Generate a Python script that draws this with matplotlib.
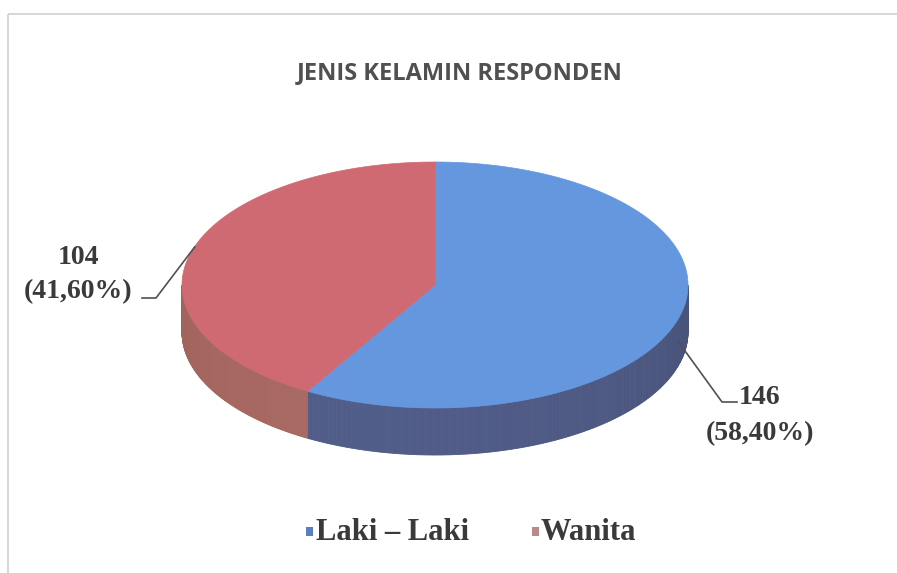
import numpy as np
import matplotlib
matplotlib.use("Agg")
import matplotlib.pyplot as plt
from matplotlib.patches import Polygon, Rectangle

# ---- data ----
title = "JENIS KELAMIN RESPONDEN"
categories = ["Laki \u2013 Laki", "Wanita"]
counts = [146, 104]
percent_labels = ["58,40%", "41,60%"]
top_colors = ["#6497de", "#cf6a72"]
side_colors = ["#4e5a84", "#a3665f"]
legend_colors = ["#5a7fc0", "#b88a8c"]

W, H = 897, 573
fig = plt.figure(figsize=(W / 100, H / 100), dpi=100)
ax = fig.add_axes([0, 0, 1, 1])
ax.set_xlim(0, W)
ax.set_ylim(H, 0)
ax.axis("off")

# frame of the chart area
ax.add_patch(Rectangle((8, 14), W + 20, H + 20, fill=False, ec="#d0d0d0", lw=1.2))

# pie geometry (layout)
cx, cy, rx, ry, depth = 435, 285, 253, 123, 47

total = sum(counts)
fracs = [c / total for c in counts]
# clockwise from 12 o'clock
ranges = []
start = 90.0
for f in fracs:
    end = start - f * 360.0
    ranges.append((end, start))  # counterclockwise theta1 < theta2
    start = end


def pt(t, dy=0.0):
    r = np.radians(t)
    return cx + rx * np.cos(r), cy - ry * np.sin(r) + dy


def shade(c, k):
    c = np.array(matplotlib.colors.to_rgb(c))
    return np.clip(c * k, 0, 1)

# sides (front half: angles 180..360)
for (t1, t2), sc in zip(ranges, side_colors):
    for off in (-360, 0, 360):
        a1, a2 = t1 + off, t2 + off
        lo, hi = max(a1, 180), min(a2, 360)
        if hi > lo:
            ts = np.linspace(lo, hi, 200)
            for i in range(len(ts) - 1):
                ta, tb = ts[i], ts[i + 1]
                mid = (ta + tb) / 2
                k = 0.95 + 0.08 * np.cos(np.radians(mid - 250))
                xa, ya = pt(ta)
                xb, yb = pt(tb)
                poly = [(xa, ya), (xb, yb), (xb, yb + depth), (xa, ya + depth)]
                ax.add_patch(Polygon(poly, closed=True, fc=shade(sc, k), ec=shade(sc, k), lw=0.6))

# top faces
for (t1, t2), tc in zip(ranges, top_colors):
    ts = np.linspace(t1, t2, 300)
    pts = [(cx, cy)] + [pt(t) for t in ts]
    ax.add_patch(Polygon(pts, closed=True, fc=tc, ec=tc, lw=0.5))

# title
ax.text(460, 73, title, ha="center", va="center", fontsize=17,
        fontweight="bold", family="Open Sans", color="#505050")

# data labels with leader lines
lab_font = dict(family="Liberation Serif", fontweight="bold", fontsize=20, color="#3a3a3a")
# blue (Laki-Laki)
t1, t2 = ranges[0]
mid = (t1 + t2) / 2
x0, y0 = pt(mid, depth * 0.55)
ax.plot([x0, 722, 737], [y0, 402, 402], color="#505050", lw=1.2)
ax.text(760, 398, f"{counts[0]}", ha="center", va="center", **lab_font)
ax.text(760, 434, f"({percent_labels[0]})", ha="center", va="center", **lab_font)
# red (Wanita)
t1, t2 = ranges[1]
mid = (t1 + t2) / 2
x0, y0 = pt(mid)
ax.plot([x0 + 4, 156, 142], [y0 - 6, 298, 298], color="#505050", lw=1.2)
ax.text(78, 258, f"{counts[1]}", ha="center", va="center", **lab_font)
ax.text(78, 292, f"({percent_labels[1]})", ha="center", va="center", **lab_font)

# legend
leg_font = dict(family="Liberation Serif", fontweight="bold", fontsize=22, color="#3a3a3a")
ax.add_patch(Rectangle((306, 527), 7, 9, fc=legend_colors[0], ec="none"))
ax.text(316, 532, categories[0], ha="left", va="center", **leg_font)
ax.add_patch(Rectangle((532, 527), 7, 9, fc=legend_colors[1], ec="none"))
ax.text(541, 532, categories[1], ha="left", va="center", **leg_font)

fig.savefig("out.png", dpi=100)
